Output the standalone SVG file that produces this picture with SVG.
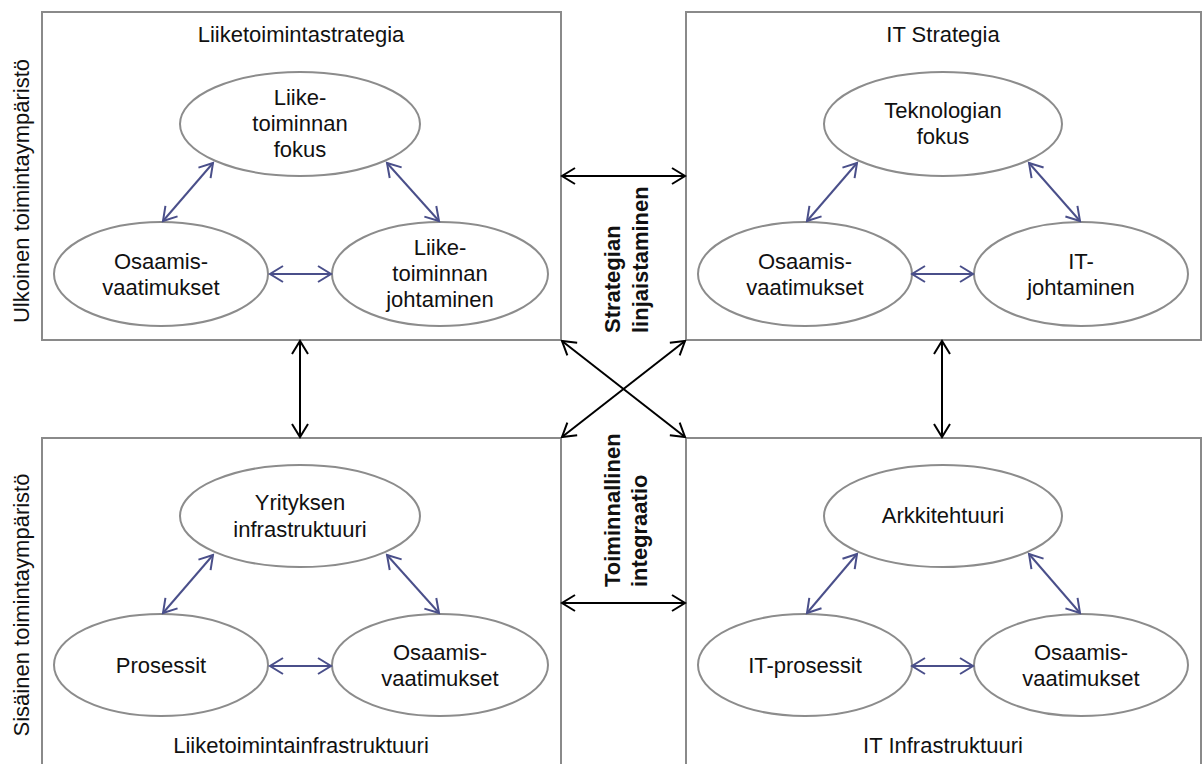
<svg xmlns="http://www.w3.org/2000/svg" width="1204" height="764" viewBox="0 0 1204 764">
<defs>
<style>
.box{fill:#fff;stroke:#8a8a8a;stroke-width:2}
.ell{fill:#fff;stroke:#8c8c8c;stroke-width:2}
.t{font-family:"Liberation Sans",Arial,sans-serif;font-size:22px;fill:#111;text-anchor:middle}
.b{font-family:"Liberation Sans",Arial,sans-serif;font-size:22px;font-weight:bold;fill:#111;text-anchor:start}
.pa{stroke:#4a4f8a;stroke-width:2;fill:none;marker-start:url(#mp);marker-end:url(#mp)}
.ka{stroke:#000;stroke-width:2;fill:none;marker-start:url(#mk);marker-end:url(#mk)}
</style>
<marker id="mp" markerUnits="userSpaceOnUse" markerWidth="22" markerHeight="22" viewBox="-15 -11 17 22" refX="0" refY="0" orient="auto-start-reverse">
<path d="M-13,-8 L0,0 L-13,8" fill="none" stroke="#4a4f8a" stroke-width="2"/>
</marker>
<marker id="mk" markerUnits="userSpaceOnUse" markerWidth="22" markerHeight="22" viewBox="-15 -11 17 22" refX="0" refY="0" orient="auto-start-reverse">
<path d="M-13,-8 L0,0 L-13,8" fill="none" stroke="#000" stroke-width="2"/>
</marker>
</defs>
<rect width="1204" height="764" fill="#fff"/>

<g id="box-liiketoimintastrategia">
<rect class="box" x="42" y="12" width="519" height="328"/>
<text class="t" x="301" y="42">Liiketoimintastrategia</text>
</g>
<g id="box-itstrategia">
<rect class="box" x="686" y="12" width="515" height="328"/>
<text class="t" x="943" y="42">IT Strategia</text>
</g>
<g id="box-liiketoimintainfrastruktuuri">
<rect class="box" x="42" y="438" width="519" height="340"/>
<text class="t" x="301" y="753">Liiketoimintainfrastruktuuri</text>
</g>
<g id="box-itinfrastruktuuri">
<rect class="box" x="686" y="438" width="515" height="340"/>
<text class="t" x="943" y="753">IT Infrastruktuuri</text>
</g>

<g id="n-lt-fokus"><ellipse class="ell" cx="300" cy="124" rx="120" ry="52"/>
<text class="t" x="300" y="105">Liike-</text><text class="t" x="300" y="131">toiminnan</text><text class="t" x="300" y="157">fokus</text></g>
<g id="n-lt-osaamis"><ellipse class="ell" cx="161" cy="274" rx="107" ry="52"/>
<text class="t" x="161" y="269">Osaamis-</text><text class="t" x="161" y="295">vaatimukset</text></g>
<g id="n-lt-johtaminen"><ellipse class="ell" cx="440" cy="274" rx="108" ry="52"/>
<text class="t" x="440" y="255">Liike-</text><text class="t" x="440" y="281">toiminnan</text><text class="t" x="440" y="307">johtaminen</text></g>

<g id="n-it-fokus"><ellipse class="ell" cx="943" cy="124" rx="119" ry="52"/>
<text class="t" x="943" y="118">Teknologian</text><text class="t" x="943" y="144">fokus</text></g>
<g id="n-it-osaamis"><ellipse class="ell" cx="805" cy="274" rx="107" ry="52"/>
<text class="t" x="805" y="269">Osaamis-</text><text class="t" x="805" y="295">vaatimukset</text></g>
<g id="n-it-johtaminen"><ellipse class="ell" cx="1081" cy="274" rx="107" ry="52"/>
<text class="t" x="1081" y="269">IT-</text><text class="t" x="1081" y="295">johtaminen</text></g>

<g id="n-yritys"><ellipse class="ell" cx="300" cy="516" rx="120" ry="51"/>
<text class="t" x="300" y="510">Yrityksen</text><text class="t" x="300" y="537">infrastruktuuri</text></g>
<g id="n-prosessit"><ellipse class="ell" cx="161" cy="665" rx="107" ry="51"/>
<text class="t" x="161" y="673">Prosessit</text></g>
<g id="n-li-osaamis"><ellipse class="ell" cx="440" cy="665" rx="108" ry="51"/>
<text class="t" x="440" y="660">Osaamis-</text><text class="t" x="440" y="686">vaatimukset</text></g>

<g id="n-arkkitehtuuri"><ellipse class="ell" cx="943" cy="516" rx="119" ry="51"/>
<text class="t" x="943" y="523">Arkkitehtuuri</text></g>
<g id="n-itprosessit"><ellipse class="ell" cx="805" cy="665" rx="107" ry="51"/>
<text class="t" x="805" y="673">IT-prosessit</text></g>
<g id="n-it-osaamis2"><ellipse class="ell" cx="1081" cy="665" rx="107" ry="51"/>
<text class="t" x="1081" y="660">Osaamis-</text><text class="t" x="1081" y="686">vaatimukset</text></g>

<g id="side-labels">
<text class="t" transform="translate(29,191) rotate(-90)">Ulkoinen toimintaympäristö</text>
<text class="t" transform="translate(29,605) rotate(-90)">Sisäinen toimintaympäristö</text>
<text class="b" transform="translate(620,333) rotate(-90)">Strategian</text>
<text class="b" transform="translate(648,333) rotate(-90)">linjaistaminen</text>
<text class="b" transform="translate(620,587) rotate(-90)">Toiminnallinen</text>
<text class="b" transform="translate(647,587) rotate(-90)">integraatio</text>
</g>

<g id="connectors">
<line class="pa" x1="213" y1="163" x2="163" y2="221"/>
<line class="pa" x1="387" y1="163" x2="439" y2="221"/>
<line class="pa" x1="270" y1="274" x2="331" y2="274"/>
<line class="pa" x1="857" y1="163" x2="807" y2="221"/>
<line class="pa" x1="1029" y1="163" x2="1080" y2="221"/>
<line class="pa" x1="912" y1="274" x2="973" y2="274"/>
<line class="pa" x1="213" y1="555" x2="163" y2="613"/>
<line class="pa" x1="387" y1="555" x2="439" y2="613"/>
<line class="pa" x1="270" y1="666" x2="331" y2="666"/>
<line class="pa" x1="857" y1="554" x2="807" y2="613"/>
<line class="pa" x1="1029" y1="554" x2="1080" y2="613"/>
<line class="pa" x1="912" y1="666" x2="973" y2="666"/>
<line class="ka" x1="562" y1="176" x2="685" y2="176"/>
<line class="ka" x1="562" y1="603" x2="685" y2="603"/>
<line class="ka" x1="562" y1="341" x2="685" y2="437"/>
<line class="ka" x1="685" y1="341" x2="562" y2="437"/>
<line class="ka" x1="300" y1="341" x2="300" y2="437"/>
<line class="ka" x1="942" y1="341" x2="942" y2="437"/>
</g>
</svg>
